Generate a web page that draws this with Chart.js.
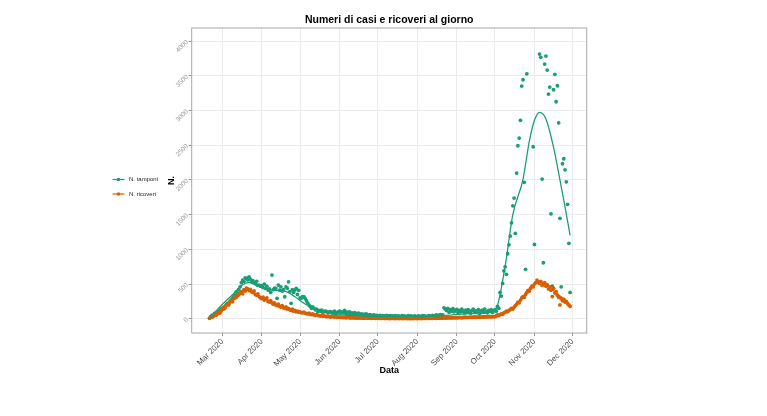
<!DOCTYPE html>
<html>
<head>
<meta charset="utf-8">
<script src="https://cdn.jsdelivr.net/npm/chart.js@4.4.1/dist/chart.umd.min.js"></script>
<style>
  html, body { margin: 0; padding: 0; background: #fff; }
  #wrap { width: 767px; height: 416px; }
</style>
</head>
<body>
<div id="wrap"><canvas id="casesChart"></canvas></div>
<script>
// x = days counted from 20 Feb 2020
const monthStarts = [10, 41, 71, 102, 132, 163, 194, 224, 255, 285];
const monthLabels = ['Mar 2020', 'Apr 2020', 'May 2020', 'Jun 2020', 'Jul 2020',
                     'Aug 2020', 'Sep 2020', 'Oct 2020', 'Nov 2020', 'Dec 2020'];
const yTicks = [0, 500, 1000, 1500, 2000, 2500, 3000, 3500, 4000];

// daily values, one line per month (Feb 20 .. Nov 29)
const tamponi = [
  6, 30, 53, 40, 78, 70, 101, 90, 120, 135,
  150, 140, 175, 200, 222, 210, 250, 269, 294, 320, 341, 389, 370, 420, 461, 520, 558, 540, 590, 582, 560, 605, 572, 533, 550, 520, 510, 540, 480, 486, 470,
  476, 450, 500, 438, 470, 414, 430, 380, 630, 420, 440, 438, 294, 486, 414, 460, 400, 420, 317, 461, 440, 533, 390, 222, 420, 380, 414, 438, 350, 410,
  300, 294, 320, 317, 294, 260, 230, 200, 180, 150, 170, 150, 130, 140, 101, 120, 110, 125, 95, 105, 110, 101, 90, 100, 101, 85, 95, 110, 80, 90, 100,
  110, 85, 100, 90, 120, 75, 95, 80, 100, 70, 85, 65, 90, 60, 75, 80, 55, 70, 60, 65, 50, 70, 45, 55, 60, 40, 50, 55, 45, 50,
  45, 40, 50, 35, 45, 40, 30, 50, 35, 40, 45, 30, 40, 35, 45, 30, 40, 35, 30, 45, 35, 40, 30, 35, 45, 30, 40, 35, 30, 40, 35,
  30, 40, 35, 30, 45, 35, 40, 30, 35, 45, 40, 35, 50, 40, 45, 55, 50, 45, 60, 50, 55, 158, 140, 120, 150, 95, 130, 110, 145, 100, 125,
  135, 90, 120, 100, 140, 110, 85, 125, 95, 130, 105, 80, 120, 140, 100, 115, 90, 130, 75, 110, 125, 95, 140, 100, 85, 120, 110, 130, 90, 115,
  130, 110, 180, 150, 380, 327, 510, 690, 749, 640, 937, 1066, 1192, 1383, 1628, 1739, 1231, 2100, 2493, 2604, 2859, 3353, 3444, 1966, 712, 3530, null, null, null, null, 2479,
  1072, null, null, null, 3814, 3767, 2013, 807, 3670, 3786, 3584, 3238, 3339, 1513, 471, 3300, 3522, 3127, 3358, 2824, 1447, 461, 2234, 2306, 2147, 1974, 1649, 1087, 380
];

const ricoveri = [
  10, 25, 20, 40, 55, 50, 70, 85, 80, 110,
  140, 165, 150, 190, 210, 200, 240, 260, 245, 290, 300, 310, 330, 345, 370, 390, 360, 420, 400, 440, 430, 405, 425, 390, 380, 400, 350, 340, 360, 320, 300,
  290, 310, 270, 280, 300, 250, 240, 260, 230, 210, 230, 200, 190, 210, 180, 170, 190, 160, 150, 170, 140, 150, 130, 120, 140, 110, 120, 100, 110, 95,
  100, 90, 85, 95, 80, 75, 70, 80, 65, 60, 70, 55, 50, 60, 50, 45, 40, 50, 35, 40, 35, 30, 40, 30, 25, 35, 30, 25, 30, 20, 25,
  25, 20, 22, 18, 20, 15, 18, 20, 15, 12, 18, 15, 12, 14, 10, 15, 12, 10, 12, 8, 10, 12, 8, 10, 9, 7, 10, 8, 6, 8,
  8, 6, 7, 5, 8, 6, 5, 7, 6, 4, 5, 7, 6, 5, 4, 6, 5, 4, 6, 5, 4, 5, 6, 4, 5, 3, 4, 5, 4, 6, 5,
  4, 5, 6, 4, 5, 6, 5, 7, 6, 5, 8, 7, 6, 8, 9, 7, 10, 8, 9, 11, 10, 12, 11, 13, 12, 14, 13, 15, 14, 16, 15,
  16, 14, 19, 17, 15, 20, 18, 22, 17, 21, 19, 24, 20, 23, 26, 21, 25, 28, 22, 27, 30, 24, 29, 26, 31, 28, 33, 27, 32, 30,
  30, 40, 55, 45, 60, 70, 65, 85, 95, 110, 100, 120, 135, 150, 140, 165, 190, 210, 240, 230, 270, 300, 320, 310, 350, 380, 410, 400, 440, 470, 460,
  500, 520, 558, 530, 510, 540, 480, 500, 520, 470, 490, 430, 460, 410, 320, 440, 370, 390, 340, 310, 200, 290, 260, 280, 240, 250, 220, 200, 180
];

// smoothed trends
const tamponiTrendDays = [0, 8, 19, 25, 31, 37, 45, 53, 59, 67, 75, 83, 96, 110, 130, 150, 170, 190, 205, 218, 225, 232, 238, 246, 251, 255, 259, 264, 270, 275, 279, 283];
const tamponiTrend = [0, 170, 365, 480, 525, 478, 430, 405, 398, 318, 213, 144, 72, 50, 35, 30, 35, 55, 75, 85, 150, 760, 1500, 2010, 2560, 2860, 2975, 2880, 2470, 2000, 1610, 1200];
const ricoveriTrendDays = [0, 3, 10, 16, 24, 29, 33, 37, 44, 50, 57, 63, 70, 77, 83, 96, 110, 140, 170, 200, 220, 226, 232, 238, 242, 246, 250, 254, 257, 262, 266, 272, 279, 283];
const ricoveriTrend = [30, 53, 150, 245, 366, 414, 395, 342, 285, 225, 173, 135, 101, 72, 53, 29, 18, 10, 8, 10, 18, 50, 100, 150, 220, 317, 410, 490, 533, 515, 470, 370, 270, 183];

const green = '#1b9e77';
const orange = '#d95f02';

const toPoints = (vals, days) => vals.map((v, i) => ({ x: days ? days[i] : i, y: v }));

Chart.defaults.font.family = '"Liberation Sans", Arial, sans-serif';

// panel border and the ggplot-style legend on the left
const panelAndLegend = {
  id: 'panelAndLegend',
  afterDraw(chart) {
    const { ctx, chartArea: a } = chart;
    ctx.save();
    ctx.strokeStyle = '#a8a8a8';
    ctx.lineWidth = 1;
    ctx.strokeRect(a.left, a.top, a.right - a.left, a.bottom - a.top);

    const keys = chart.data.datasets.filter(d => d.trend);
    keys.forEach((d, i) => {
      const y = 179.5 + i * 14.5;
      ctx.strokeStyle = d.borderColor;
      ctx.lineWidth = 1.2;
      ctx.beginPath();
      ctx.moveTo(112.5, y);
      ctx.lineTo(124.5, y);
      ctx.stroke();
      ctx.fillStyle = d.borderColor;
      ctx.beginPath();
      ctx.arc(118.5, y, 1.8, 0, Math.PI * 2);
      ctx.fill();
      ctx.fillStyle = '#222';
      ctx.font = '6px "Liberation Sans", Arial, sans-serif';
      ctx.textBaseline = 'middle';
      ctx.fillText(d.label, 129, y);
    });
    ctx.restore();
  }
};

new Chart(document.getElementById('casesChart'), {
  type: 'scatter',
  data: {
    datasets: [
      {
        label: 'N. tamponi', trend: true,
        data: toPoints(tamponiTrend, tamponiTrendDays),
        showLine: true, borderColor: green, borderWidth: 1.3, pointRadius: 0,
        cubicInterpolationMode: 'monotone', order: 0
      },
      {
        label: 'N. ricoveri', trend: true,
        data: toPoints(ricoveriTrend, ricoveriTrendDays),
        showLine: true, borderColor: orange, borderWidth: 1.3, pointRadius: 0,
        cubicInterpolationMode: 'monotone', order: 1
      },
      {
        label: 'ricoveri', data: toPoints(ricoveri),
        backgroundColor: orange, borderWidth: 0, pointRadius: 1.9, order: 2
      },
      {
        label: 'tamponi', data: toPoints(tamponi),
        backgroundColor: green, borderWidth: 0, pointRadius: 1.9, order: 3
      }
    ]
  },
  options: {
    responsive: true,
    maintainAspectRatio: false,
    animation: false,
    layout: { padding: { left: 161.7, right: 180.3, top: 0, bottom: 39 } },
    plugins: {
      legend: { display: false },
      tooltip: { enabled: false },
      title: {
        display: true,
        text: 'Numeri di casi e ricoveri al giorno',
        fullSize: false,
        color: '#000',
        font: { size: 10.5, weight: 'bold' },
        padding: { top: 13.5, bottom: 1.9 }
      }
    },
    scales: {
      x: {
        type: 'linear',
        min: -14,
        max: 296,
        afterBuildTicks: s => { s.ticks = monthStarts.map(v => ({ value: v })); },
        afterFit: s => { s.height = 44; },
        ticks: {
          autoSkip: false, minRotation: 45, maxRotation: 45, padding: 1,
          color: '#4d4d4d', font: { size: 8 },
          callback: v => monthLabels[monthStarts.indexOf(v)]
        },
        grid: { color: '#ebebeb', tickLength: 3, tickColor: '#999' },
        border: { display: false },
        title: {
          display: true, text: 'Data', color: '#000',
          font: { size: 9, weight: 'bold' }, padding: { top: 0, bottom: 0.6 }
        }
      },
      y: {
        min: -205,
        max: 4190,
        afterBuildTicks: s => { s.ticks = yTicks.map(v => ({ value: v })); },
        afterFit: s => { s.width = 30; },
        ticks: {
          minRotation: 45, maxRotation: 45, padding: 1.5,
          color: '#9a9a9a', font: { size: 6.5 },
          callback: v => String(v)
        },
        grid: { color: '#ebebeb', tickLength: 3, tickColor: '#999' },
        border: { display: false },
        title: {
          display: true, text: 'N.', color: '#000',
          font: { size: 9, weight: 'bold' }, padding: { top: 4.9, bottom: 0 }
        }
      }
    }
  },
  plugins: [panelAndLegend]
});
</script>
</body>
</html>
